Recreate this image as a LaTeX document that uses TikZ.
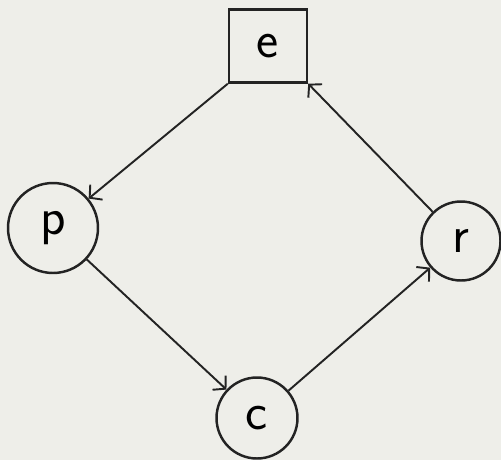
\documentclass[tikz,border=0pt]{standalone}
\usepackage{tikz}
\usetikzlibrary{arrows.meta}
\definecolor{paper}{RGB}{238,238,233}
\definecolor{pencil}{RGB}{35,35,35}

\begin{document}
\begin{tikzpicture}[x=0.02cm, y=-0.02cm, line width=1.4pt, draw=pencil,
      state/.style={draw=pencil, circle, inner sep=0pt, font=\sffamily\fontsize{30}{36}\selectfont},
      event/.style={draw=pencil, rectangle, minimum width=1.56cm, minimum height=1.46cm, inner sep=0pt, font=\sffamily\fontsize{30}{36}\selectfont},
      flow/.style={draw=pencil, line width=1.1pt, -{Straight Barb[length=5pt,width=11pt]}}]
      \fill[paper] (0,0) rectangle (501,460);
      \useasboundingbox (0,0) rectangle (501,460);
      \node (e) [event] at (268,46) {e};
      \node (p) [state, minimum size=1.8cm] at (53,228) {p};
      \node (c) [state, minimum size=1.62cm] at (257,418) {c};
      \node (r) [state, minimum size=1.58cm] at (461,241) {r};
      
      \draw[flow] (e.south west) -- (p);
      \draw[flow] (p) -- (c);
      \draw[flow] (c) -- (r);
      \draw[flow] (r) -- (e.south east);
    \end{tikzpicture}
\end{document}
